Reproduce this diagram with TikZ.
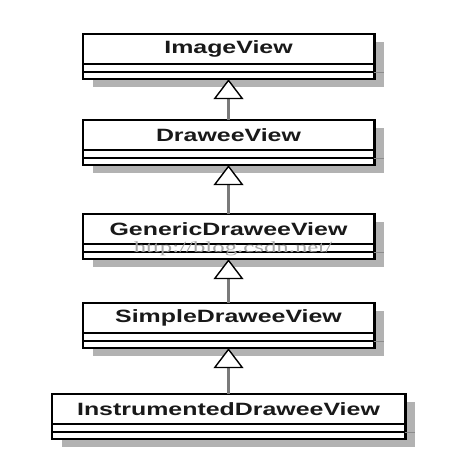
\documentclass[tikz,border=0pt]{standalone}
\usepackage{fontspec}
\newfontfamily\umlfont[FakeStretch=1.4]{Liberation Sans}
\newfontfamily\markfont[FakeStretch=1.6]{Liberation Serif}
\usetikzlibrary{positioning,shadows,arrows.meta}
\tikzset{
  cname/.style={draw,line width=2.4pt,fill=white,inner sep=0pt,outer sep=0pt,
    minimum height=30pt,text=black!90,
    font=\umlfont\bfseries\fontsize{17.8}{20}\selectfont,
    drop shadow={shadow xshift=10pt,shadow yshift=-8pt,fill=black!30,opacity=1}},
  cpart/.style={draw,line width=2.4pt,fill=white,inner sep=0pt,outer sep=0pt,
    drop shadow={shadow xshift=10pt,shadow yshift=-8pt,fill=black!30,opacity=1}},
  inherit/.style={draw=black!52,line width=3pt,
    -{Triangle[length=20pt,width=30pt,fill=white,color=black,line width=1.4pt]}},
  shadowline/.style={draw=black!45,line width=0.7pt}
}
\begin{document}
\begin{tikzpicture}[x=1pt,y=-1pt]
\useasboundingbox (0,0) rectangle (452,476);
%
  \node[cname,minimum width=291.6] (image) at (228.5,49.2) {ImageView};
  \node[cpart,minimum width=291.6,minimum height=8,below=0pt of image] (imageA) {};
  \node[cpart,minimum width=291.6,minimum height=7,below=0pt of imageA] (imageB) {};
%
  \node[cname,minimum width=291.6] (drawee) at (228.5,135.2) {DraweeView};
  \node[cpart,minimum width=291.6,minimum height=8,below=0pt of drawee] (draweeA) {};
  \node[cpart,minimum width=291.6,minimum height=7,below=0pt of draweeA] (draweeB) {};
%
  \node[cname,minimum width=291.6] (generic) at (228.5,229.2) {GenericDraweeView};
  \node[cpart,minimum width=291.6,minimum height=8,below=0pt of generic] (genericA) {};
  \node[cpart,minimum width=291.6,minimum height=7,below=0pt of genericA] (genericB) {};
%
  \node[cname,minimum width=291.6] (simple) at (228.5,318.2) {SimpleDraweeView};
  \node[cpart,minimum width=291.6,minimum height=8,below=0pt of simple] (simpleA) {};
  \node[cpart,minimum width=291.6,minimum height=7,below=0pt of simpleA] (simpleB) {};
%
  \node[cname,minimum width=353.6] (instr) at (228.5,409.2) {InstrumentedDraweeView};
  \node[cpart,minimum width=353.6,minimum height=8,below=0pt of instr] (instrA) {};
  \node[cpart,minimum width=353.6,minimum height=7,below=0pt of instrA] (instrB) {};
%
  \draw[shadowline] (imageB.north east) -- ++(10,0);
  \draw[shadowline] (draweeB.north east) -- ++(10,0);
  \draw[shadowline] (genericB.north east) -- ++(10,0);
  \draw[shadowline] (simpleB.north east) -- ++(10,0);
  \draw[shadowline] (instrB.north east) -- ++(10,0);
%
  \draw[inherit] (drawee.north) -- (imageB.south);
  \draw[inherit] (generic.north) -- (draweeB.south);
  \draw[inherit] (simple.north) -- (genericB.south);
  \draw[inherit] (instr.north) -- (simpleB.south);
%
  \node[text=black!35,font=\markfont\fontsize{15.5}{16}\selectfont] (mark) at (233,249) {http://blog.csdn.net/};
\end{tikzpicture}
\end{document}
